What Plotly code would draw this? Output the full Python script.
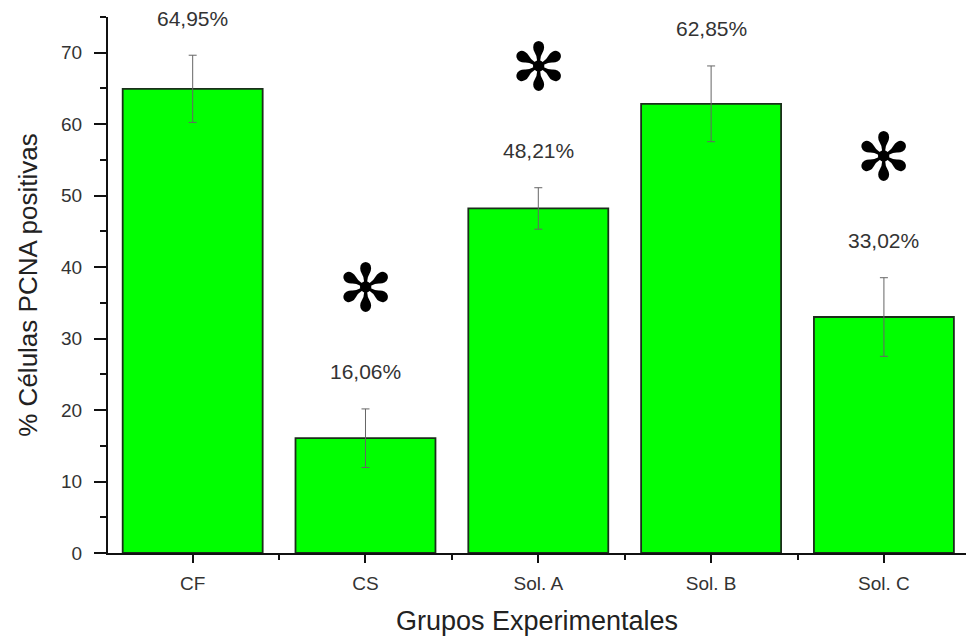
import plotly.graph_objects as go

categories = ["CF", "CS", "Sol. A", "Sol. B", "Sol. C"]
values = [64.95, 16.06, 48.21, 62.85, 33.02]
errors = [4.7, 4.1, 2.9, 5.3, 5.5]
value_labels = ["64,95%", "16,06%", "48,21%", "62,85%", "33,02%"]
significant = [False, True, True, False, True]

x_pos = list(range(len(categories)))
FONT = "Liberation Sans, Arial"

fig = go.Figure()
fig.add_trace(go.Bar(
    x=x_pos, y=values, width=0.81,
    marker=dict(color="#00FF00", line=dict(color="#1a2e1a", width=1.8)),
    error_y=dict(type="data", array=errors, visible=True, color="#666666",
                 thickness=1, width=4),
    showlegend=False,
))

for xi, v, e, lab, sig in zip(x_pos, values, errors, value_labels, significant):
    fig.add_annotation(x=xi, y=v + e, yref="y", xref="x", text=lab,
                       showarrow=False, yshift=37,
                       font=dict(family=FONT, size=21, color="#333333"))
    if sig:
        fig.add_annotation(x=xi, y=v + e, yref="y", xref="x", text="\u273B",
                           showarrow=False, yshift=120,
                           font=dict(family="DejaVu Sans", size=66, color="#000000"))

fig.update_layout(
    width=967, height=639,
    margin=dict(l=108, r=1, t=17, b=86),
    plot_bgcolor="white", paper_bgcolor="white",
    xaxis=dict(
        range=[-0.49, 4.475], tickmode="array", tickvals=x_pos, ticktext=categories,
        automargin=False,
        showgrid=False, zeroline=False, showline=True, linecolor="#111111", linewidth=2,
        ticks="outside", ticklen=8, tickwidth=2, tickcolor="#111111",
        minor=dict(tickmode="linear", tick0=0.5, dtick=1, ticks="outside", ticklen=5,
                   tickwidth=2, tickcolor="#111111", showgrid=False),
        ticklabelstandoff=4,
        tickfont=dict(family=FONT, size=19, color="#333333"),
        title=dict(text="Grupos Experimentales", standoff=18,
                   font=dict(family=FONT, size=27, color="#222222")),
    ),
    yaxis=dict(
        range=[0, 75], tickmode="linear", tick0=0, dtick=10,
        automargin=False,
        showgrid=False, zeroline=False, showline=True, linecolor="#111111", linewidth=2,
        ticks="outside", ticklen=12, tickwidth=2, tickcolor="#111111",
        minor=dict(tickmode="linear", tick0=5, dtick=10, ticks="outside", ticklen=6,
                   tickwidth=2, tickcolor="#111111", showgrid=False),
        ticklabelstandoff=8,
        tickfont=dict(family=FONT, size=19, color="#333333"),
        title=dict(text="% Células PCNA positivas", standoff=16,
                   font=dict(family=FONT, size=26, color="#222222")),
    ),
)

fig.write_html("out.html", config={"displayModeBar": False},
               post_script="document.body.style.margin='0';")
